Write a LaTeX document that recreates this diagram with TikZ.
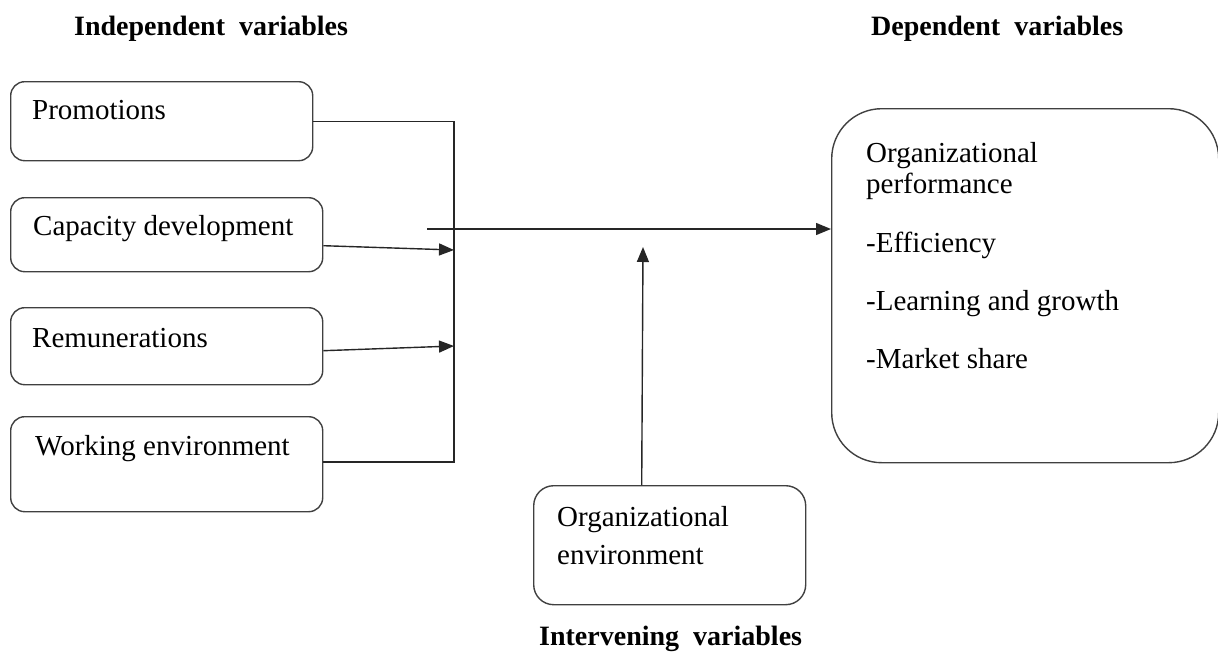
\documentclass[tikz,border=0pt]{standalone}
\usepackage{fontspec}
\setmainfont{Liberation Serif}
\usetikzlibrary{arrows.meta}
\begin{document}
\begin{tikzpicture}[x=1pt,y=-1pt,
  box/.style={draw=black!75, line width=1.4pt, rounded corners=14pt, anchor=north west, inner sep=0pt},
  txt/.style={anchor=base west, inner sep=0pt, font=\fontsize{29}{33}\selectfont},
  ttl/.style={anchor=base west, inner sep=0pt, font=\fontsize{28}{32}\selectfont\bfseries},
  conn/.style={line width=1.4pt, draw=black!85},
  arr/.style={conn, -{Triangle[length=15pt,width=12pt]}}]
\useasboundingbox (0,0) rectangle (1218,653);

% boxes
\node[box, minimum width=302pt, minimum height=79pt] (prom) at (10,81) {};
\node[box, minimum width=312pt, minimum height=74pt] (cap) at (10,197) {};
\node[box, minimum width=312pt, minimum height=77pt] (rem) at (10,307) {};
\node[box, minimum width=312pt, minimum height=95pt] (work) at (10,416) {};
\node[box, rounded corners=20pt, minimum width=272pt, minimum height=119pt] (env) at (533,485) {};
\node[box, rounded corners=50pt, minimum width=387pt, minimum height=354pt] (dep) at (831,108) {};

% texts
\node[txt] (tprom) at (32,119) {Promotions};
\node[txt] (tcap) at (33,235) {Capacity development};
\node[txt] (trem) at (32,347) {Remunerations};
\node[txt] (twork) at (35,455) {Working environment};
\node[txt] (tenv1) at (557,526) {Organizational};
\node[txt] (tenv2) at (557,564) {environment};
\node[txt] (tdep1) at (866,162) {Organizational};
\node[txt] (tdep2) at (866,193) {performance};
\node[txt] (tdep3) at (866,252) {-Efficiency};
\node[txt] (tdep4) at (866,310) {-Learning and growth};
\node[txt] (tdep5) at (866,368) {-Market share};

% titles
\node[ttl] (tind) at (74,35) {Independent\ \ variables};
\node[ttl] (tdept) at (871,35) {Dependent\ \ variables};
\node[ttl] (tint) at (539,645) {Intervening\ \ variables};

% connectors
\coordinate (bb) at (454,462);
\coordinate (c1) at (454,250);
\coordinate (r1) at (454,346);
\coordinate (m0) at (427,229);
\coordinate (v1) at (643,247);
\draw[conn] (prom.east) -| (bb) -- (bb -| work.east);
\draw[arr] ([yshift=-11pt]cap.east) -- (c1);
\draw[arr] ([yshift=-4.5pt]rem.east) -- (r1);
\draw[arr] (m0) -- (m0 -| dep.west);
\draw[arr] ([xshift=-28pt]env.north) -- (v1);
\end{tikzpicture}
\end{document}
